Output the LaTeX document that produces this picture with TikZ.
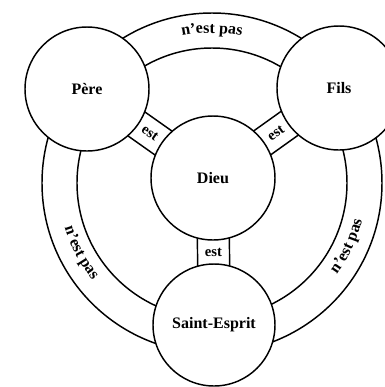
\documentclass[tikz,border=0pt]{standalone}
\usepackage{fontspec}
\setmainfont{Liberation Serif}
\usetikzlibrary{calc,backgrounds,decorations.text}
\begin{document}
\begin{tikzpicture}[x=0.75pt,y=-0.75pt,line width=1.1pt,
  person/.style={circle,draw,fill=white,minimum size=93pt,inner sep=0pt,
    font=\fontsize{12}{14}\selectfont\bfseries},
  lbl/.style={inner sep=0pt,font=\fontsize{11}{13}\selectfont\bfseries},
  band/.style={draw,line width=1.1pt},
  ringtext/.style={decorate,decoration={text along path,text align=center,
    text={|\fontsize{12}{14}\selectfont\bfseries|#1}}}]
\clip (0,0) rectangle (385,387);
\node[person] (dieu) at (213,178) {Dieu};
\node[person] (pere) at (87,89) {Père};
\node[person] (fils) at (339,88) {Fils};
\node[person,minimum size=91.5pt] (esprit) at (214,325) {Saint-Esprit};
\begin{scope}[on background layer={line width=1.1pt}]
  \fill[white] (0,0) rectangle (385,387);
  \coordinate (rc) at (212,183);
  \path[band] (rc) circle[radius=127.5pt];
  \path[band] (rc) circle[radius=101.25pt];
  \path[band,fill=white] ($(pere.center)!11pt!90:(dieu.center)$) -- ($(dieu.center)!11pt!-90:(pere.center)$)
     -- ($(dieu.center)!11pt!90:(pere.center)$) -- ($(pere.center)!11pt!-90:(dieu.center)$) -- cycle;
  \path[band,fill=white] ($(fils.center)!11pt!90:(dieu.center)$) -- ($(dieu.center)!11pt!-90:(fils.center)$)
     -- ($(dieu.center)!11pt!90:(fils.center)$) -- ($(fils.center)!11pt!-90:(dieu.center)$) -- cycle;
  \path[band,fill=white] ($(esprit.center)!12pt!90:(dieu.center)$) -- ($(dieu.center)!12pt!-90:(esprit.center)$)
     -- ($(dieu.center)!12pt!90:(esprit.center)$) -- ($(esprit.center)!12pt!-90:(dieu.center)$) -- cycle;
\end{scope}
\path (pere) -- (dieu) node[midway,sloped,lbl] (e1) {est};
\path (dieu) -- (fils) node[midway,sloped,lbl] (e2) {est};
\path (dieu) -- (esprit) node[midway,lbl] (e3) {est};
\begin{scope}[shift={(212,183)},x=0.75pt,y=0.75pt]
  \path[ringtext={n’est pas}] (118:112.5pt) arc[start angle=118,end angle=62,radius=112.5pt];
  \path[ringtext={n’est pas}] (180:115.5pt) arc[start angle=180,end angle=236,radius=115.5pt];
  \path[ringtext={n’est pas}] (-53:116pt) arc[start angle=-53,end angle=3,radius=116pt];
\end{scope}
\end{tikzpicture}
\end{document}
